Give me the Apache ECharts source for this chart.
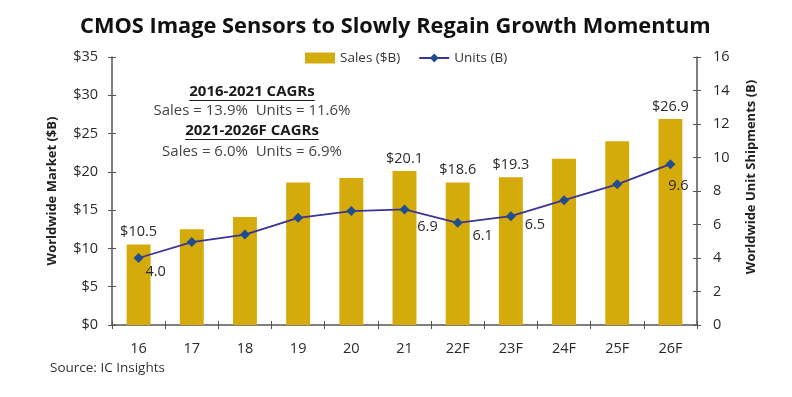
<!DOCTYPE html>
<html>
<head>
<meta charset="utf-8">
<script src="https://cdn.jsdelivr.net/npm/echarts@6/dist/echarts.min.js"></script>
<style>
html,body{margin:0;padding:0;background:#fff;}
#main{width:792px;height:397px;}
</style>
</head>
<body>
<div id="main"></div>
<script>
// ---- data ----
const categories = ['16','17','18','19','20','21','22F','23F','24F','25F','26F'];
const salesB = [10.5, 12.5, 14.1, 18.6, 19.2, 20.1, 18.6, 19.3, 21.7, 24.0, 26.9];
const unitsB = [4.0, 4.95, 5.4, 6.4, 6.8, 6.9, 6.1, 6.5, 7.45, 8.4, 9.6];
const salesLabelIdx = [0, 5, 6, 7, 10];
const unitsLabelIdx = [0, 5, 6, 7, 10];
const titleText = 'CMOS Image Sensors to Slowly Regain Growth Momentum';
const cagrLines = ['2016-2021 CAGRs', 'Sales = 13.9%  Units = 11.6%', '2021-2026F CAGRs', 'Sales = 6.0%  Units = 6.9%'];
const sourceText = 'Source: IC Insights';

// ---- styles ----
const FONT = 'Open Sans';
const BAR = '#D5AA0B';
const LINE = '#3A3494';
const MARK = '#1F4E8F';
const TXT = '#2a2a2a';
const AX = '#555';
const unitOffsets = {0:[17,14], 5:[23,17], 6:[25,13], 7:[24,9], 10:[8,22]};

function measure(text, font){
  const c = document.createElement('canvas').getContext('2d');
  c.font = font; return c.measureText(text).width;
}

const chart = echarts.init(document.getElementById('main'), null, {renderer:'canvas'});

const salesData = salesB.map((v,i)=>({
  value:v,
  label:{show: salesLabelIdx.includes(i)}
}));
const unitsData = unitsB.map((v,i)=>{
  const o = unitOffsets[i] || [0,0];
  return {value:v, label:{show: unitsLabelIdx.includes(i), offset:o}};
});

const annCx = 252;
const annY = [92, 111, 131, 152];
const annSize = 15;
const graphics = [];
cagrLines.forEach((t,i)=>{
  const bold = (i%2===0);
  const f = (bold?'bold ':'') + annSize + 'px "'+FONT+'"';
  graphics.push({
    type:'text',
    style:{text:t, x:annCx, y:annY[i], align:'center', verticalAlign:'middle',
      font:f, fill: bold? '#1a1a1a' : '#444'}
  });
  if(bold){
    const w = measure(t, f);
    graphics.push({type:'line', shape:{x1:annCx-w/2, y1:annY[i]+8.5, x2:annCx+w/2, y2:annY[i]+8.5},
      style:{stroke:'#1a1a1a', lineWidth:1}});
  }
});
graphics.push({type:'text', style:{text:sourceText, x:50, y:368, verticalAlign:'middle',
  font:'13.5px "'+FONT+'"', fill:'#333'}});

const tickStyle = {show:true, length:4, lineStyle:{color:AX, width:1}};
const option = {
  backgroundColor:'#fff',
  animation:false,
  textStyle:{fontFamily:FONT},
  title:{text:titleText, left:75, top:11,
    textStyle:{fontFamily:FONT, fontWeight:'bold', fontSize:21.8, color:'#111'}},
  legend:{top:46, left:300, itemGap:18, itemWidth:30, itemHeight:11,
    textStyle:{fontFamily:FONT, fontSize:13.5, color:'#333'},
    data:[{name:'Sales ($B)', icon:'rect'}, {name:'Units (B)'}]},
  grid:{left:112, right:95, top:57, bottom:72},
  xAxis:[
    {type:'category', data:categories, axisLine:{show:true, lineStyle:{color:AX, width:1.5}},
      axisTick:Object.assign({}, tickStyle, {inside:false}),
      axisLabel:{fontSize:14.5, color:TXT, margin:16, fontFamily:FONT}},
    {type:'category', data:categories, position:'bottom', axisLine:{show:false},
      axisTick:Object.assign({}, tickStyle, {inside:true}), axisLabel:{show:false}}
  ],
  yAxis:[
    {type:'value', min:0, max:35, interval:5, position:'left',
      name:'Worldwide Market ($B)', nameLocation:'middle', nameGap:53,
      nameTextStyle:{fontFamily:FONT, fontWeight:'bold', fontSize:13, color:'#222'},
      axisLine:{show:true, lineStyle:{color:AX, width:1.5}},
      axisTick:Object.assign({}, tickStyle, {inside:false}),
      splitLine:{show:false},
      axisLabel:{fontSize:14.5, color:TXT, margin:14, formatter:v=>'$'+v}},
    {type:'value', min:0, max:16, interval:2, position:'right',
      name:'Worldwide Unit Shipments (B)', nameLocation:'middle', nameGap:48, nameRotate:90,
      nameTextStyle:{fontFamily:FONT, fontWeight:'bold', fontSize:13, color:'#222', padding:[0,0,0,28]},
      axisLine:{show:true, lineStyle:{color:AX, width:1.5}},
      axisTick:Object.assign({}, tickStyle, {inside:false}),
      splitLine:{show:false},
      axisLabel:{fontSize:14.5, color:TXT, margin:16}},
    {type:'value', min:0, max:35, interval:5, position:'left', axisLine:{show:false},
      axisTick:Object.assign({}, tickStyle, {inside:true}), axisLabel:{show:false}, splitLine:{show:false}},
    {type:'value', min:0, max:16, interval:2, position:'right', axisLine:{show:false},
      axisTick:Object.assign({}, tickStyle, {inside:true}), axisLabel:{show:false}, splitLine:{show:false}}
  ],
  series:[
    {name:'Sales ($B)', type:'bar', xAxisIndex:0, yAxisIndex:0, data:salesData,
      barWidth:'45%', itemStyle:{color:BAR},
      label:{position:'top', distance:5, fontSize:14.5, color:TXT, formatter:p=>'$'+p.value.toFixed(1)}},
    {name:'Units (B)', type:'line', xAxisIndex:0, yAxisIndex:1, data:unitsData,
      symbol:'diamond', symbolSize:10, lineStyle:{color:LINE, width:1.8},
      itemStyle:{color:MARK},
      label:{position:'inside', fontSize:14.5, color:TXT, formatter:p=>p.value.toFixed(1)}}
  ],
  graphic:graphics
};
chart.setOption(option);
</script>
</body>
</html>
